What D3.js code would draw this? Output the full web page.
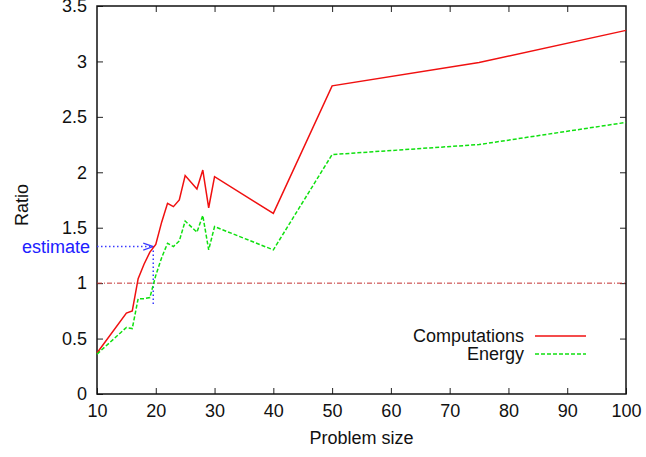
<!DOCTYPE html>
<html lang="en">
    <head>
        <meta charset="utf-8">
        <title>Ratio vs problem size</title>
        <script type="text/javascript" src="https://d3js.org/d3.v7.min.js"></script>
        <style>
          body { margin: 0; background: white; }
          text { font-family: "Liberation Sans", Arial, sans-serif; font-size: 18px; fill: #111; }
        </style>
    </head>
    <body>
        <script type="text/javascript">
            // data
            const sizes = [10, 15, 16, 17, 18, 19, 20, 21, 22, 23, 24, 25, 27, 28, 29, 30, 40, 50, 75, 100]
            const computations = [0.37, 0.73, 0.75, 1.04, 1.17, 1.28, 1.35, 1.55, 1.72, 1.69, 1.75, 1.97, 1.85, 2.02, 1.68, 1.96, 1.63, 2.78, 2.99, 3.28]
            const energy = [0.36, 0.60, 0.59, 0.86, 0.86, 0.87, 1.07, 1.23, 1.36, 1.33, 1.38, 1.56, 1.46, 1.61, 1.30, 1.51, 1.30, 2.16, 2.25, 2.45]
            const xTicks = [10, 20, 30, 40, 50, 60, 70, 80, 90, 100]
            const yTicks = [0, 0.5, 1, 1.5, 2, 2.5, 3, 3.5]
            const estimate = {x: 19.57, y: 1.33, bottom: 0.81}
            const seriesNames = ["Computations", "Energy"]

            const w = 646
            const h = 457
            const m = {left: 97, right: 20, top: 6, bottom: 63}

            const svg = d3.select("body")
                          .append("svg")
                          .attr("width", w)
                          .attr("height", h)

            const x = d3.scaleLinear().domain([10, 100]).range([m.left, w - m.right])
            const y = d3.scaleLinear().domain([0, 3.5]).range([h - m.bottom, m.top])

            // ticks on all four sides, pointing inward
            const tickLen = 6
            const tickStyle = (g) => {
                g.select(".domain").remove()
                g.selectAll("line").attr("stroke", "#222")
            }
            svg.append("g")
               .attr("transform", `translate(0,${h - m.bottom})`)
               .call(d3.axisBottom(x).tickValues(xTicks).tickSize(-tickLen).tickPadding(10).tickFormat(d3.format("d")))
               .call(tickStyle)
               .selectAll("text").style("font-size", "18px").attr("fill", "#111")
            svg.append("g")
               .attr("transform", `translate(0,${m.top})`)
               .call(d3.axisTop(x).tickValues(xTicks.slice(1, -1)).tickSize(-tickLen).tickFormat(""))
               .call(tickStyle)
            svg.append("g")
               .attr("transform", `translate(${m.left},0)`)
               .call(d3.axisLeft(y).tickValues(yTicks).tickSize(-tickLen).tickPadding(10).tickFormat(d3.format("")))
               .call(tickStyle)
               .selectAll("text").style("font-size", "18px").attr("fill", "#111")
            svg.append("g")
               .attr("transform", `translate(${w - m.right},0)`)
               .call(d3.axisRight(y).tickValues(yTicks.slice(1, -1)).tickSize(-tickLen).tickFormat(""))
               .call(tickStyle)

            // border
            svg.append("rect")
               .attr("x", m.left)
               .attr("y", m.top)
               .attr("width", w - m.left - m.right)
               .attr("height", h - m.top - m.bottom)
               .attr("fill", "none")
               .attr("stroke", "#111")
               .attr("stroke-width", 1.5)

            // reference line at ratio 1
            svg.append("line")
               .attr("x1", x(10)).attr("x2", x(100))
               .attr("y1", y(1)).attr("y2", y(1))
               .attr("stroke", "#c43030")
               .attr("stroke-width", 1)
               .attr("stroke-dasharray", "5,2,1,2")

            // estimate arrow
            const blue = "#3a3aff"
            svg.append("line")
               .attr("x1", x(10)).attr("x2", x(estimate.x) - 1)
               .attr("y1", y(estimate.y)).attr("y2", y(estimate.y))
               .attr("stroke", blue).attr("stroke-width", 1.5)
               .attr("stroke-dasharray", "1.5,2.5")
            svg.append("line")
               .attr("x1", x(estimate.x)).attr("x2", x(estimate.x))
               .attr("y1", y(estimate.y)).attr("y2", y(estimate.bottom))
               .attr("stroke", blue).attr("stroke-width", 1.5)
               .attr("stroke-dasharray", "1.5,2.5")
            svg.append("path")
               .attr("d", `M${x(estimate.x) - 10},${y(estimate.y) - 3.5} L${x(estimate.x)},${y(estimate.y)} L${x(estimate.x) - 10},${y(estimate.y) + 3.5}`)
               .attr("fill", "none")
               .attr("stroke", blue).attr("stroke-width", 1.2)
            svg.append("text")
               .attr("x", m.left - 7)
               .attr("y", y(estimate.y))
               .attr("dy", "0.35em")
               .attr("text-anchor", "end")
               .style("fill", "#2020ff")
               .text("estimate")

            // series
            const line = d3.line().x((d) => x(d[0])).y((d) => y(d[1]))
            svg.append("path")
               .datum(sizes.map((s, i) => [s, computations[i]]))
               .attr("d", line)
               .attr("fill", "none")
               .attr("stroke", "#f01010")
               .attr("stroke-width", 1.5)
            svg.append("path")
               .datum(sizes.map((s, i) => [s, energy[i]]))
               .attr("d", line)
               .attr("fill", "none")
               .attr("stroke", "#10e010")
               .attr("stroke-width", 1.5)
               .attr("stroke-dasharray", "4,2")

            // legend
            const legend = svg.append("g")
            legend.selectAll("text")
              .data(seriesNames)
              .enter()
              .append("text")
              .attr("x", 524)
              .attr("y", (d, i) => 336 + i * 18)
              .attr("dy", "0.35em")
              .attr("text-anchor", "end")
              .text((d) => d)
            legend.append("line")
              .attr("x1", 535).attr("x2", 586).attr("y1", 336).attr("y2", 336)
              .attr("stroke", "#f01010").attr("stroke-width", 1.5)
            legend.append("line")
              .attr("x1", 535).attr("x2", 586).attr("y1", 354).attr("y2", 354)
              .attr("stroke", "#10e010").attr("stroke-width", 1.5)
              .attr("stroke-dasharray", "4,2")

            // axis titles
            svg.append("text")
               .attr("x", (m.left + w - m.right) / 2)
               .attr("y", 438)
               .attr("dy", "0.35em")
               .attr("text-anchor", "middle")
               .text("Problem size")
            svg.append("text")
               .attr("transform", "translate(22,205) rotate(-90)")
               .attr("dy", "0.35em")
               .attr("text-anchor", "middle")
               .text("Ratio")
        </script>
    </body>
</html>
